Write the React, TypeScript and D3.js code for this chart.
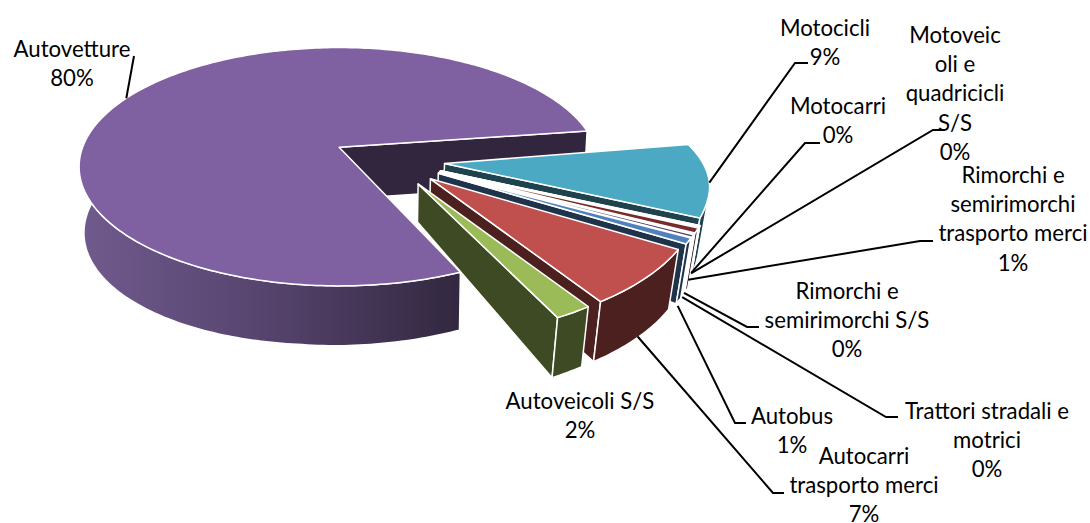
import React from "react";
import * as d3 from "d3";

const categories = ["Autobus","Autocarri trasporto merci","Autoveicoli S/S","Autovetture","Motocicli","Motocarri","Motoveicoli e quadricicli S/S","Rimorchi e semirimorchi trasporto merci","Rimorchi e semirimorchi S/S","Trattori stradali e motrici"];
const values = [0.7,7.1,2,80.4,8.6,0.05,0.15,0.6,0.1,0.3];
const colors = ["#4F81BD","#C0504D","#9BBB59","#7F60A0","#4BA9C4","#F79646","#2C4D75","#772C2A","#5F7530","#4D3B62"];
const labelLines = [["Autobus"],["Autocarri","trasporto merci"],["Autoveicoli S/S"],["Autovetture"],["Motocicli"],["Motocarri"],["Motoveic","oli e","quadricicli","S/S"],["Rimorchi e","semirimorchi","trasporto merci"],["Rimorchi e","semirimorchi S/S"],["Trattori stradali e","motrici"]];
// label layout: centre x of lines, first baseline
const labelPos: [number,number][] = [[792,424],[864,463.5],[580,409],[72,57],[825,36],[838,114],[955,43],[1013,183],[847,299],[987,419]];
// leader layout: elbow x, elbow y, tail x, depth fraction of the start on the rim
const leaders: ([number,number,number,number]|null)[] = [[735,423,746,1.08],[773,493,784,0.98],null,[134,56,134,0],[795,63,808,0],[805,143,820,0.78],[933,130,945,0.78],[920,241,933,0.82],[747,327,759,0.98],[886,417,898,1.02]];

const CX=389, CY=160, EX=56, EY=28;
const DEPTH_APEX=38, DEPTH_RIM=60;
const rad=(a:number)=>a*Math.PI/180;
const clamp=(x:number)=>Math.max(0,Math.min(1,x));
const pie=d3.pie<number>().sort(null).startAngle(rad(117)).endAngle(rad(117+360));
const arcs=pie(values);
const order=[3,4,5,6,7,8,9,0,1,2];

function makeSlice(i:number){
  const a0=arcs[i].startAngle-Math.PI/2, a1=arcs[i].endAngle-Math.PI/2, mid=(a0+a1)/2;
  const ax=CX+EX*Math.cos(mid), ay=CY+EY*Math.sin(mid);
  const purple=i===3;
  const RX=purple?256.5:i===4?264:268, RY=purple?116:135, K=purple?0.163:0.12;
  const top=(r:number,t:number):[number,number]=>{
    const u=r*Math.cos(t), v=r*Math.sin(t), s=1/(1-K*v);
    const sq=!purple&&v<0.25?1-0.33*(0.25-v)*(0.25-v):1;
    return [ax+u*RX*s*sq, ay+v*RY*s];
  };
  const depth=(r:number,t:number)=>{
    if(purple){
      if(r===0||(Math.cos(t)>0&&Math.sin(t)<0)) return 52;
      const x=top(r,t)[0];
      return 58+2*clamp((460-x)/130)+6*clamp((300-x)/220);
    }
    return DEPTH_APEX+(DEPTH_RIM-DEPTH_APEX)*r;
  };
  const shift=purple?0.015:0.035;
  const pt=(r:number,t:number,z:number):[number,number]=>{
    const [x,y]=top(r,t); const d=depth(r,t)*z;
    return [x-shift*(x-400)*z, y+d];
  };
  return {a0:purple?a0+rad(4):a0,a1,mid,top,pt};
}

const line=d3.line<[number,number]>().curve(d3.curveLinearClosed);
const open=d3.line<[number,number]>();

function sample(a:number,b:number){
  const n=Math.max(2,Math.ceil(Math.abs(b-a)/rad(1)));
  return d3.range(n+1).map(j=>a+(b-a)*j/n);
}

function Slice({i}:{i:number}){
  const s=makeSlice(i); const c=colors[i];
  const wall=d3.rgb(c).darker(2.6).formatHex();
  const purple=i===3;
  const fillWall=purple?"url(#rimGrad)":wall;
  const topPts:[number,number][]=[s.top(0,s.a0),...sample(s.a0,s.a1).map(t=>s.top(1,t))];
  const endWall:[number,number][]=[s.top(0,s.a1),s.top(1,s.a1),s.pt(1,s.a1,1),s.pt(0,s.a1,1)];
  const vis0=rad(12), vis1=rad(186);
  const ts=sample(s.a0,s.a1).filter(t=>{const n=(t%(2*Math.PI)+2*Math.PI)%(2*Math.PI);return n>=vis0&&n<=vis1;});
  const rim:[number,number][]=ts.length>1?[...ts.map(t=>s.top(1,t)),...ts.slice().reverse().map(t=>s.pt(1,t,1))]:[];
  return <g stroke="#fff" strokeWidth={1.5} strokeLinejoin="round">
    <path d={line(endWall)!} fill={wall}/>
    {rim.length>0 && <path d={line(rim)!} fill={fillWall}/>}
    <path d={line(topPts)!} fill={c}/>
  </g>;
}

function Leader({i}:{i:number}){
  const l=leaders[i]; if(!l) return null;
  const s=makeSlice(i);
  let t=s.mid;
  if(i===3) t=rad(207);
  if(i===4) t=rad(8);
  const st=s.pt(1,t,l[3]);
  return <path d={open([st,[l[0],l[1]],[l[2],l[1]]])!} fill="none" stroke="#000" strokeWidth={2}/>;
}

function Label({i}:{i:number}){
  const [x,y]=labelPos[i];
  const lines=[...labelLines[i],`${Math.round(values[i])}%`];
  return <text fontFamily="Lato" fontSize={22.2} fill="#000" textAnchor="middle">
    {lines.map((t,j)=><tspan key={j} x={x} y={y+j*29.2}>{t}</tspan>)}
  </text>;
}

export default function App(){
  return <svg width={1090} height={523} style={{position:"absolute",left:0,top:0,background:"#fff"}}>
    <defs>
      <linearGradient id="rimGrad" gradientUnits="userSpaceOnUse" x1={78} x2={460} y1={0} y2={0}>
        <stop offset="0" stopColor="#715b8e"/>
        <stop offset="0.5" stopColor="#55436d"/>
        <stop offset="1" stopColor="#32283f"/>
      </linearGradient>
    </defs>
    {order.map(i=><Slice key={i} i={i}/>)}
    {categories.map((_,i)=><Leader key={i} i={i}/>)}
    {categories.map((_,i)=><Label key={i} i={i}/>)}
  </svg>;
}
